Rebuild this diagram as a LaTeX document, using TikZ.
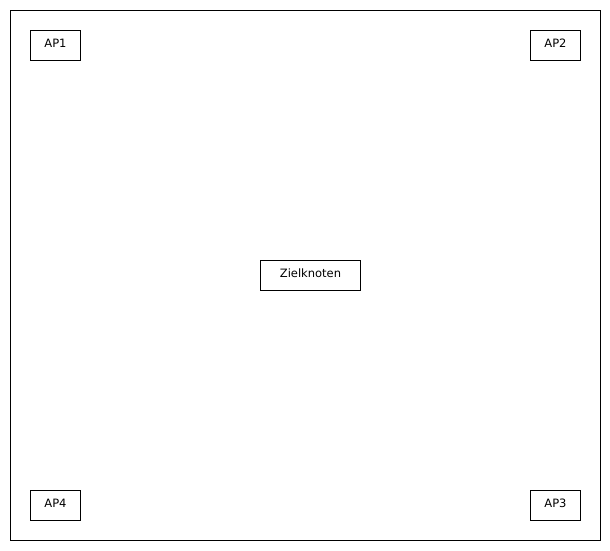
\documentclass[tikz,border=0pt]{standalone}
\usepackage{fontspec}
\setmainfont{DejaVu Sans}
\begin{document}
\begin{tikzpicture}[x=1pt,y=-1pt,
  box/.style={draw=black,line width=0.9pt},
  lbl/.style={font=\fontsize{11.5}{13}\selectfont,inner sep=0pt,anchor=center}]
\useasboundingbox (0,0) rectangle (610,550);
\draw[box] (10.5,10.5) rectangle (600.5,540.5);
\draw[box] (30.5,30.5) rectangle (80.5,60.5);
\node[lbl] (ap1) at (55.5,43.5) {AP1};
\draw[box] (530.5,30.5) rectangle (580.5,60.5);
\node[lbl] (ap2) at (555.5,43.5) {AP2};
\draw[box] (260.5,260.5) rectangle (360.5,290.5);
\node[lbl] (ziel) at (310.5,273.5) {Zielknoten};
\draw[box] (30.5,490.5) rectangle (80.5,520.5);
\node[lbl] (ap4) at (55.5,503.5) {AP4};
\draw[box] (530.5,490.5) rectangle (580.5,520.5);
\node[lbl] (ap3) at (555.5,503.5) {AP3};
\end{tikzpicture}
\end{document}
